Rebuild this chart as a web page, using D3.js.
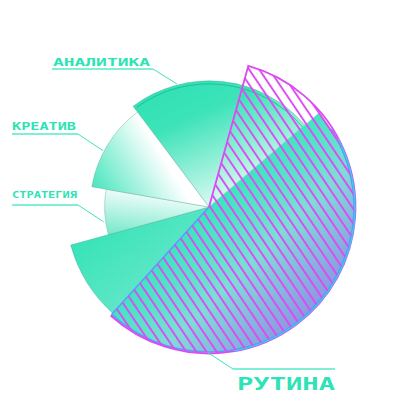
<!DOCTYPE html>
<html><head><meta charset="utf-8">
<script src="https://cdn.jsdelivr.net/npm/d3@7"></script>
<style>html,body{margin:0;padding:0;background:#fff;}svg{display:block}</style>
</head><body><svg id="chart" width="415" height="413"></svg>
<script>
// ---- data ----
const categories = ["Аналитика", "Рутина", "Прочее", "Стратегия", "Креатив"];
const labels = ["АНАЛИТИКА", "РУТИНА", "", "СТРАТЕГИЯ", "КРЕАТИВ"];
const shares = [24, 48, 9, 7, 12];          // % of the circle
const depths = [87, 100, 99, 72, 82];       // relative radius (0-100)
const highlightShare = 57.4;                // hatched sector, % of circle
const highlightDepth = 101;

// ---- layout / style ----
const W = 415, H = 413, cx = 209, cy = 207;
const deg = d => d * Math.PI / 180;
const svg = d3.select("#chart");
const defs = svg.append("defs");

const rScale = d3.scaleLinear().domain([0, 100]).range([0, 145]);
const aScale = d3.scaleLinear().domain([0, 100]).range([0, 2 * Math.PI]);

const data = categories.map((c, i) => ({cat: c, label: labels[i], share: shares[i], depth: depths[i], i}));
const pie = d3.pie().sort(null).value(d => d.share).startAngle(deg(-37)).endAngle(deg(323));
const arcs = pie(data);
const arc = d3.arc().innerRadius(0).outerRadius(d => rScale(d.data.depth));

const grads = [
  {x1: .15, y1: 0, x2: .75, y2: 1, stops: [[0, "#2ee1b4"], [0.3, "#3de3b9"], [1, "#ffffff"]]},
  {x1: 0, y1: 0, x2: 1, y2: 1, stops: [[0.38, "#33e6bc"], [0.6, "#7fdcd8"], [0.85, "#8e90e4"], [1, "#8c78ea"]]},
  {x1: 0, y1: 0, x2: 1, y2: 1, stops: [[0, "#28e2b2"], [1, "#7be9d2"]]},
  {x1: .2, y1: 1, x2: .5, y2: 0, stops: [[0, "#7ae9cc"], [1, "#ffffff"]]},
  {x1: 0, y1: 1, x2: 1, y2: .5, stops: [[0, "#2fe2b5"], [0.7, "#ffffff"]]}
];
grads.forEach((g, i) => {
  const lg = defs.append("linearGradient").attr("id", "g" + i)
    .attr("x1", g.x1).attr("y1", g.y1).attr("x2", g.x2).attr("y2", g.y2);
  g.stops.forEach(s => lg.append("stop").attr("offset", s[0]).attr("stop-color", s[1]));
});

const magenta = "#dc4af2";
const pat = defs.append("pattern").attr("id", "hatch").attr("patternUnits", "userSpaceOnUse")
  .attr("width", 8.4).attr("height", 10).attr("patternTransform", "rotate(-34)");
pat.append("line").attr("x1", 1).attr("y1", -1).attr("x2", 1).attr("y2", 11)
  .attr("stroke", magenta).attr("stroke-width", 1.9);

svg.append("rect").attr("width", W).attr("height", H).attr("fill", "#fff");
const g = svg.append("g").attr("transform", `translate(${cx},${cy})`);

// slices
g.selectAll("path.slice").data(arcs).join("path").attr("class", "slice")
  .attr("d", arc)
  .attr("fill", d => `url(#g${d.data.i})`)
  .attr("stroke", d => d.data.i === 1 ? "none" : "#4f9d8c")
  .attr("stroke-width", 0.6).attr("stroke-opacity", 0.6);

// inner rim on analitika
const a0 = arcs[0];
g.append("path")
  .attr("d", d3.arc()({innerRadius: rScale(a0.data.depth) - 3, outerRadius: rScale(a0.data.depth) - 3,
    startAngle: a0.startAngle + 0.02, endAngle: a0.endAngle}))
  .attr("fill", "none").attr("stroke", "#1fb48e").attr("stroke-opacity", 0.45).attr("stroke-width", 1);

// rutina outer edge + end edge
const r1 = arcs[1];
const R1 = rScale(r1.data.depth);
g.append("path")
  .attr("d", d3.arc()({innerRadius: R1, outerRadius: R1, startAngle: r1.startAngle + deg(8), endAngle: r1.endAngle}))
  .attr("fill", "none").attr("stroke", "#4aa6f5").attr("stroke-width", 1.6);
const endPt = d3.pointRadial(r1.endAngle, R1);
g.append("line").attr("x1", 0).attr("y1", 0).attr("x2", endPt[0]).attr("y2", endPt[1])
  .attr("stroke", "#5b9cff").attr("stroke-width", 1.6);

// hatched highlight sector
const hEnd = r1.endAngle, hStart = hEnd - aScale(highlightShare);
const RH = rScale(highlightDepth);
g.append("path")
  .attr("d", d3.arc()({innerRadius: 0, outerRadius: RH, startAngle: hStart, endAngle: hEnd}))
  .attr("fill", "url(#hatch)").attr("stroke", "none");
const hp = d3.path();
const s0 = d3.pointRadial(hStart, RH);
hp.moveTo(0, 0); hp.lineTo(s0[0], s0[1]);
hp.arc(0, 0, RH, hStart - Math.PI / 2, hEnd - Math.PI / 2);
g.append("path").attr("d", hp.toString())
  .attr("fill", "none").attr("stroke", magenta).attr("stroke-width", 1.8);

// right-side cyan rim on top
g.append("path")
  .attr("d", d3.arc()({innerRadius: R1 + 1, outerRadius: R1 + 1, startAngle: deg(62), endAngle: deg(170)}))
  .attr("fill", "none").attr("stroke", "#2fcfee").attr("stroke-width", 1.4);

// labels
const labelLayout = [
  {i: 0, tx: 53, ty: 66, tw: 97, fs: 11, ly: 69, lx0: 52, lx1: 153, ang: -14.6, dr: 1},
  {i: 4, tx: 12, ty: 129.5, tw: 64, fs: 10, ly: 134, lx0: 12, lx1: 78, ang: 298, dr: 1},
  {i: 3, tx: 12, ty: 198, tw: 65, fs: 8.5, ly: 205, lx0: 12, lx1: 78, ang: 262, dr: 2},
  {i: 1, tx: 237, ty: 390, tw: 98, fs: 17, ly: 369, lx0: 233, lx1: 335, ang: 180.8, dr: 0}
];
labelLayout.forEach(L => {
  const d = arcs[L.i];
  const [px, py] = d3.pointRadial(deg(L.ang), rScale(d.data.depth) + L.dr);
  const elbowX = L.i === 1 ? L.lx0 : L.lx1;
  svg.append("line").attr("x1", cx + px).attr("y1", cy + py).attr("x2", elbowX).attr("y2", L.ly)
    .attr("stroke", "#3fe2bb").attr("stroke-width", 1);
  svg.append("line").attr("x1", L.lx0).attr("y1", L.ly).attr("x2", L.lx1).attr("y2", L.ly)
    .attr("stroke", "#7ff0d6").attr("stroke-width", 2);
  svg.append("text").attr("x", L.tx).attr("y", L.ty)
    .attr("font-family", "'DejaVu Sans Mono', monospace").attr("font-weight", "bold")
    .attr("font-size", L.fs).attr("fill", "#2ee3b5")
    .attr("textLength", L.tw).attr("lengthAdjust", "spacingAndGlyphs")
    .text(d.data.label);
});
</script></body></html>
